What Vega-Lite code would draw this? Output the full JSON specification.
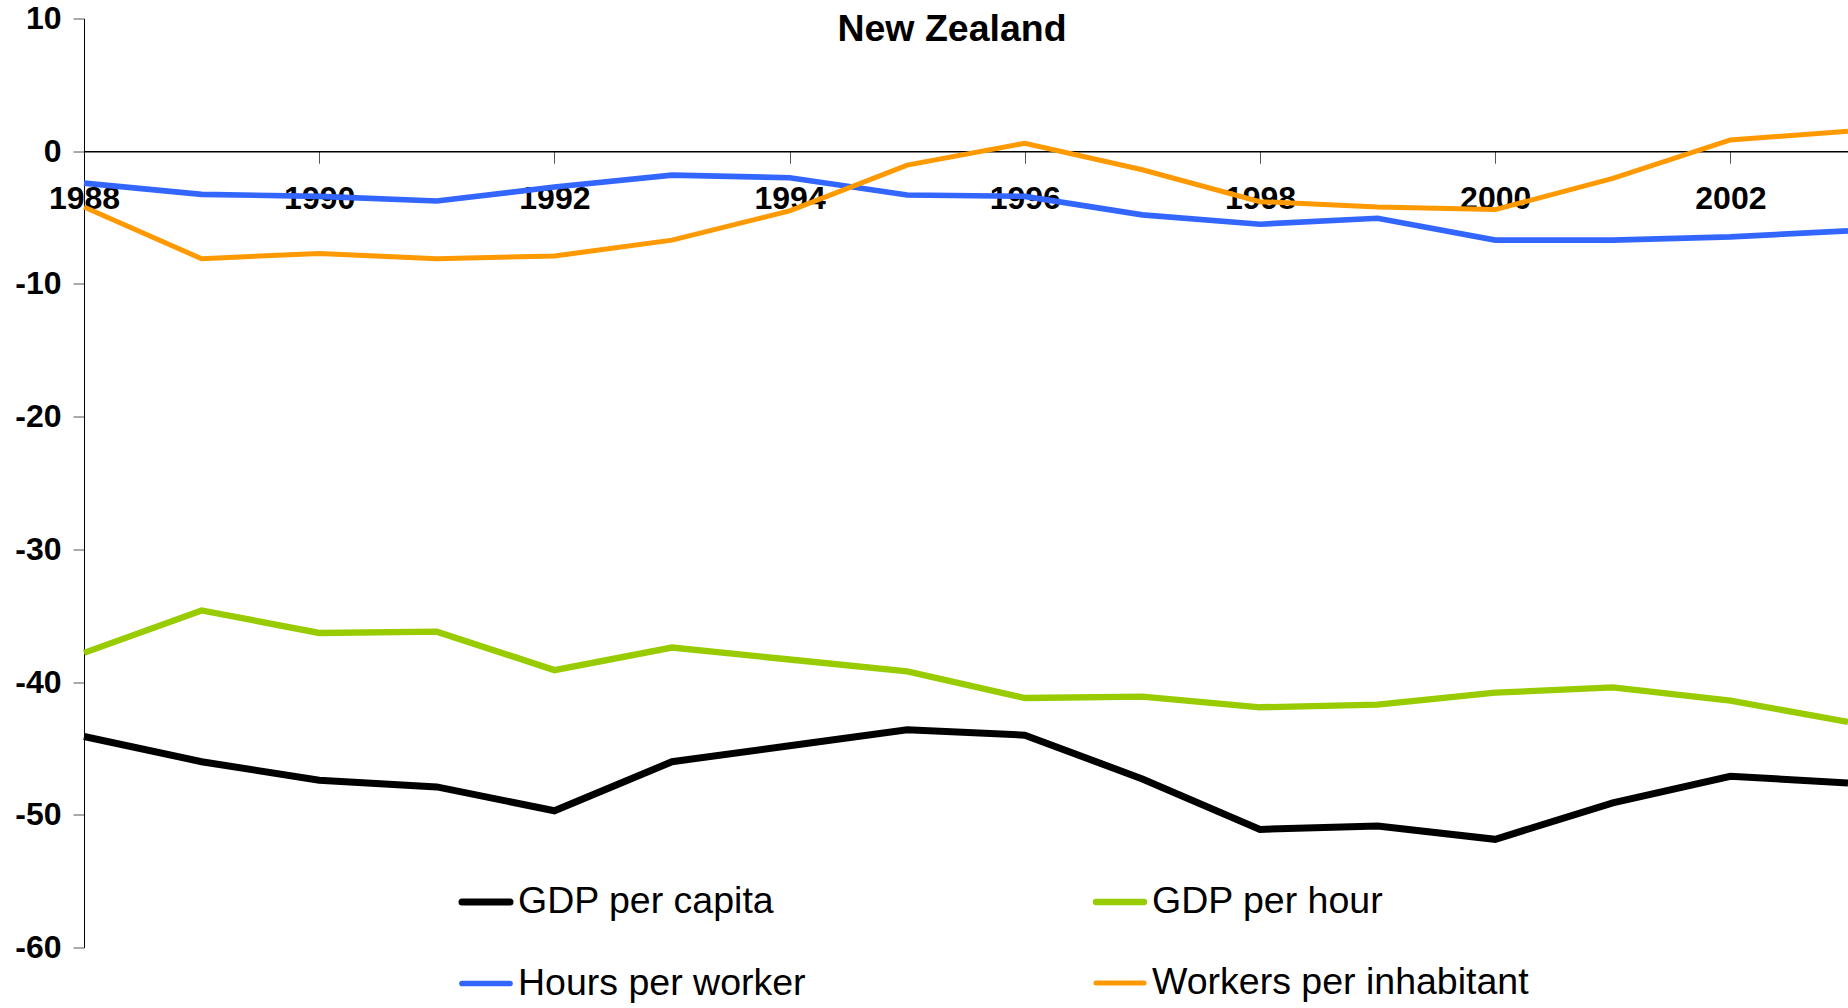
{
  "$schema": "https://vega.github.io/schema/vega-lite/v6.json",
  "width": 1764,
  "height": 929,
  "autosize": {"type": "none"},
  "padding": {"left": 84, "top": 18.5, "right": 0, "bottom": 60},
  "background": "white",
  "config": {"view": {"stroke": null}, "font": "Liberation Sans"},
  "title": {"text": "New Zealand", "anchor": "middle", "dx": -14, "offset": -46, "baseline": "top", "fontSize": 37.5, "fontWeight": "bold", "font": "Liberation Sans", "color": "black"},
  "data": {"values": [
    {"year": 1988, "series": "GDP per capita", "value": -44.1},
    {"year": 1989, "series": "GDP per capita", "value": -46.0},
    {"year": 1990, "series": "GDP per capita", "value": -47.4},
    {"year": 1991, "series": "GDP per capita", "value": -47.9},
    {"year": 1992, "series": "GDP per capita", "value": -49.7},
    {"year": 1993, "series": "GDP per capita", "value": -46.0},
    {"year": 1994, "series": "GDP per capita", "value": -44.8},
    {"year": 1995, "series": "GDP per capita", "value": -43.6},
    {"year": 1996, "series": "GDP per capita", "value": -44.0},
    {"year": 1997, "series": "GDP per capita", "value": -47.3},
    {"year": 1998, "series": "GDP per capita", "value": -51.1},
    {"year": 1999, "series": "GDP per capita", "value": -50.85},
    {"year": 2000, "series": "GDP per capita", "value": -51.85},
    {"year": 2001, "series": "GDP per capita", "value": -49.1},
    {"year": 2002, "series": "GDP per capita", "value": -47.1},
    {"year": 2003, "series": "GDP per capita", "value": -47.6},
    {"year": 1988, "series": "GDP per hour", "value": -37.8},
    {"year": 1989, "series": "GDP per hour", "value": -34.6},
    {"year": 1990, "series": "GDP per hour", "value": -36.3},
    {"year": 1991, "series": "GDP per hour", "value": -36.2},
    {"year": 1992, "series": "GDP per hour", "value": -39.1},
    {"year": 1993, "series": "GDP per hour", "value": -37.4},
    {"year": 1994, "series": "GDP per hour", "value": -38.3},
    {"year": 1995, "series": "GDP per hour", "value": -39.2},
    {"year": 1996, "series": "GDP per hour", "value": -41.2},
    {"year": 1997, "series": "GDP per hour", "value": -41.1},
    {"year": 1998, "series": "GDP per hour", "value": -41.9},
    {"year": 1999, "series": "GDP per hour", "value": -41.7},
    {"year": 2000, "series": "GDP per hour", "value": -40.8},
    {"year": 2001, "series": "GDP per hour", "value": -40.4},
    {"year": 2002, "series": "GDP per hour", "value": -41.4},
    {"year": 2003, "series": "GDP per hour", "value": -43.0},
    {"year": 1988, "series": "Hours per worker", "value": -2.4},
    {"year": 1989, "series": "Hours per worker", "value": -3.25},
    {"year": 1990, "series": "Hours per worker", "value": -3.4},
    {"year": 1991, "series": "Hours per worker", "value": -3.75},
    {"year": 1992, "series": "Hours per worker", "value": -2.7},
    {"year": 1993, "series": "Hours per worker", "value": -1.8},
    {"year": 1994, "series": "Hours per worker", "value": -2.0},
    {"year": 1995, "series": "Hours per worker", "value": -3.3},
    {"year": 1996, "series": "Hours per worker", "value": -3.4},
    {"year": 1997, "series": "Hours per worker", "value": -4.8},
    {"year": 1998, "series": "Hours per worker", "value": -5.5},
    {"year": 1999, "series": "Hours per worker", "value": -5.05},
    {"year": 2000, "series": "Hours per worker", "value": -6.7},
    {"year": 2001, "series": "Hours per worker", "value": -6.7},
    {"year": 2002, "series": "Hours per worker", "value": -6.45},
    {"year": 2003, "series": "Hours per worker", "value": -6.0},
    {"year": 1988, "series": "Workers per inhabitant", "value": -4.2},
    {"year": 1989, "series": "Workers per inhabitant", "value": -8.1},
    {"year": 1990, "series": "Workers per inhabitant", "value": -7.7},
    {"year": 1991, "series": "Workers per inhabitant", "value": -8.1},
    {"year": 1992, "series": "Workers per inhabitant", "value": -7.9},
    {"year": 1993, "series": "Workers per inhabitant", "value": -6.7},
    {"year": 1994, "series": "Workers per inhabitant", "value": -4.5},
    {"year": 1995, "series": "Workers per inhabitant", "value": -1.05},
    {"year": 1996, "series": "Workers per inhabitant", "value": 0.6},
    {"year": 1997, "series": "Workers per inhabitant", "value": -1.4},
    {"year": 1998, "series": "Workers per inhabitant", "value": -3.8},
    {"year": 1999, "series": "Workers per inhabitant", "value": -4.2},
    {"year": 2000, "series": "Workers per inhabitant", "value": -4.4},
    {"year": 2001, "series": "Workers per inhabitant", "value": -2.05},
    {"year": 2002, "series": "Workers per inhabitant", "value": 0.85},
    {"year": 2003, "series": "Workers per inhabitant", "value": 1.5}
  ]},
  "mark": {"type": "line", "strokeJoin": "miter"},
  "encoding": {
    "x": {
      "field": "year", "type": "quantitative",
      "scale": {"domain": [1988, 2003], "nice": false, "zero": false},
      "axis": {
        "title": null, "values": [1988, 1990, 1992, 1994, 1996, 1998, 2000, 2002], "format": "d",
        "offset": -796.3, "grid": false,
        "domainColor": "black", "domainWidth": 1.5,
        "tickColor": "#555", "tickWidth": 1, "tickSize": 12,
        "labelFont": "Liberation Sans", "labelFontSize": 32, "labelFontWeight": "bold", "labelColor": "black",
        "labelPadding": 20, "labelFlush": false, "labelOverlap": false
      }
    },
    "y": {
      "field": "value", "type": "quantitative",
      "scale": {"domain": [-60, 10], "nice": false, "zero": false},
      "axis": {
        "title": null, "values": [10, 0, -10, -20, -30, -40, -50, -60], "grid": false,
        "labelExpr": "'' + datum.value",
        "domainColor": "black", "domainWidth": 1,
        "tickColor": "#555", "tickWidth": 1, "tickSize": 11,
        "labelFont": "Liberation Sans", "labelFontSize": 32, "labelFontWeight": "bold", "labelColor": "black",
        "labelPadding": 12, "labelOverlap": false
      }
    },
    "color": {
      "field": "series", "type": "nominal",
      "scale": {"domain": ["GDP per capita", "GDP per hour", "Hours per worker", "Workers per inhabitant"], "range": ["#000000", "#99CC00", "#3366FF", "#FF9900"]},
      "legend": {
        "title": null, "orient": "none", "legendX": 374.5, "legendY": 856, "columns": 2, "direction": "horizontal",
        "symbolType": "stroke", "symbolSize": 2304, "padding": 0,
        "rowPadding": 36, "columnPadding": 276,
        "labelFont": "Liberation Sans", "labelFontSize": 37.5, "labelColor": "black", "labelLimit": 600, "labelOffset": 4.5,
        "encode": {"symbols": {"update": {"strokeCap": {"value": "round"}}}}
      }
    },
    "strokeWidth": {
      "field": "series", "type": "nominal",
      "scale": {"domain": ["GDP per capita", "GDP per hour", "Hours per worker", "Workers per inhabitant"], "range": [7, 5, 5, 5]},
      "legend": {
        "title": null, "orient": "none", "legendX": 374.5, "legendY": 856, "columns": 2, "direction": "horizontal",
        "symbolType": "stroke", "symbolSize": 2304, "padding": 0,
        "rowPadding": 36, "columnPadding": 276,
        "labelFont": "Liberation Sans", "labelFontSize": 37.5, "labelColor": "black", "labelLimit": 600, "labelOffset": 4.5,
        "encode": {"symbols": {"update": {"strokeCap": {"value": "round"}}}}
      }
    }
  }
}
